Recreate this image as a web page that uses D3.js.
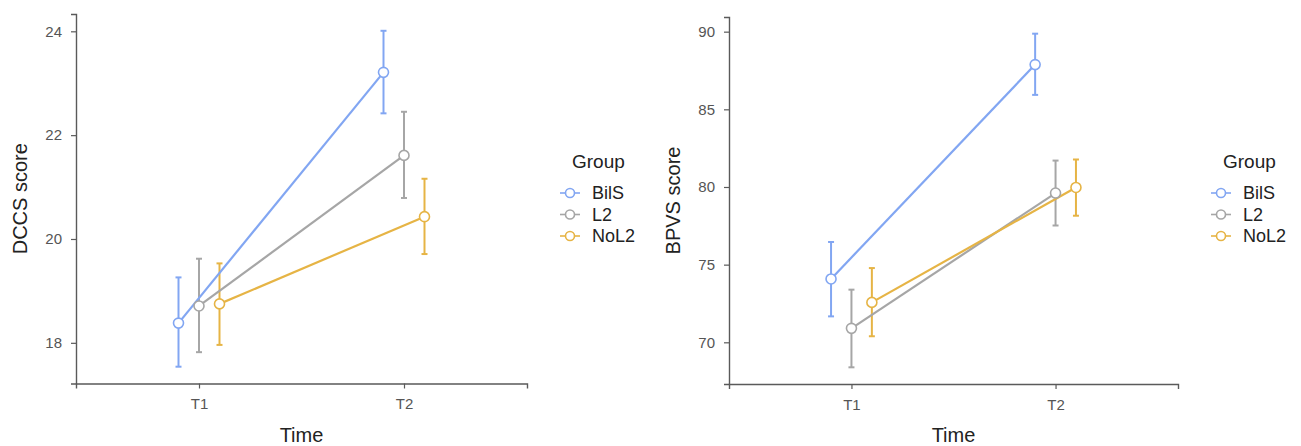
<!DOCTYPE html>
<html>
<head>
<meta charset="utf-8">
<script src="https://cdn.jsdelivr.net/npm/d3@7"></script>
<style>
	body { margin: 0; background: #fff; }
	svg { display: block; font-family: "Liberation Sans", Arial, sans-serif; }
</style>
</head>
<body>
<div id="chart"></div>
<script>
'use strict';

// data
var times = ["T1", "T2"];
var groups = ["BilS", "L2", "NoL2"];
var groupColors = ["#82a6f2", "#a6a6a6", "#e6b445"];

var dccsMean = { BilS: [18.38, 23.21], L2: [18.71, 21.61], NoL2: [18.75, 20.43] };
var dccsLow  = { BilS: [17.54, 22.42], L2: [17.82, 20.79], NoL2: [17.96, 19.71] };
var dccsHigh = { BilS: [19.26, 24.01], L2: [19.62, 22.45], NoL2: [19.53, 21.16] };
var dccsTicks = [18, 20, 22, 24];

var bpvsMean = { BilS: [74.08, 87.88], L2: [70.90, 79.61], NoL2: [72.57, 79.97] };
var bpvsLow  = { BilS: [71.67, 85.93], L2: [68.39, 77.52], NoL2: [70.39, 78.15] };
var bpvsHigh = { BilS: [76.46, 89.87], L2: [73.39, 81.70], NoL2: [74.78, 81.77] };
var bpvsTicks = [70, 75, 80, 85, 90];

var W = 1301, H = 446;

var panels = [
	{ left: 76, right: 527, top: 14, bottom: 383.5, ytitle: "DCCS score",
		mean: dccsMean, low: dccsLow, high: dccsHigh, ticks: dccsTicks },
	{ left: 729, right: 1178, top: 17, bottom: 384, ytitle: "BPVS score",
		mean: bpvsMean, low: bpvsLow, high: bpvsHigh, ticks: bpvsTicks }
];

var svg = d3.select("#chart").append("svg")
	.attr("width", W)
	.attr("height", H);

var color = d3.scaleOrdinal().domain(groups).range(groupColors);

panels.forEach(function (p) {
	var g = svg.append("g");

	// y domain = data range + 5% like ggplot
	var all = [];
	groups.forEach(function (k) { all = all.concat(p.low[k], p.high[k]); });
	var ext = d3.extent(all), pad = (ext[1] - ext[0]) * 0.05;

	var y = d3.scaleLinear()
		.domain([ext[0] - pad, ext[1] + pad])
		.range([p.bottom, p.top]);

	var x = d3.scalePoint()
		.domain(times)
		.range([p.left, p.right])
		.padding(0.6);

	var dodge = d3.scalePoint()
		.domain(groups)
		.range([-x.step() * 0.1, x.step() * 0.1]);

	// axes
	var yAxis = g.append("g")
		.attr("transform", "translate(" + p.left + ",0)")
		.call(d3.axisLeft(y).tickValues(p.ticks).tickSize(5).tickPadding(9));
	var xAxis = g.append("g")
		.attr("transform", "translate(0," + p.bottom + ")")
		.call(d3.axisBottom(x).tickSize(5).tickPadding(10));

	[yAxis, xAxis].forEach(function (a) {
		a.select(".domain").attr("stroke", "#5a5a5a").attr("stroke-width", 1.4);
		a.selectAll(".tick line").attr("stroke", "#5a5a5a").attr("stroke-width", 1.2);
		a.selectAll(".tick text")
			.attr("fill", "#555")
			.style("font-size", "15px")
			.style("font-family", "'Liberation Sans', Arial, sans-serif");
	});

	// titles
	g.append("text")
		.attr("x", (p.left + p.right) / 2)
		.attr("y", 442)
		.attr("text-anchor", "middle")
		.attr("fill", "#222")
		.style("font-size", "20px")
		.text("Time");
	g.append("text")
		.attr("transform", "translate(" + (p.left - 49) + "," + ((p.top + p.bottom) / 2) + ") rotate(-90)")
		.attr("text-anchor", "middle")
		.attr("fill", "#222")
		.style("font-size", "20px")
		.text(p.ytitle);

	groups.forEach(function (k) {
		var c = color(k);
		var px = function (i) { return x(times[i]) + dodge(k); };

		// error bars
		times.forEach(function (t, i) {
			var eb = g.append("g").attr("stroke", c).attr("stroke-width", 2);
			eb.append("line")
				.attr("x1", px(i)).attr("x2", px(i))
				.attr("y1", y(p.low[k][i])).attr("y2", y(p.high[k][i]));
			eb.append("line")
				.attr("x1", px(i) - 3).attr("x2", px(i) + 3)
				.attr("y1", y(p.low[k][i])).attr("y2", y(p.low[k][i]));
			eb.append("line")
				.attr("x1", px(i) - 3).attr("x2", px(i) + 3)
				.attr("y1", y(p.high[k][i])).attr("y2", y(p.high[k][i]));
		});
	});

	groups.forEach(function (k) {
		var line = d3.line()
			.x(function (d, i) { return x(times[i]) + dodge(k); })
			.y(function (d) { return y(d); });
		g.append("path")
			.datum(p.mean[k])
			.attr("d", line)
			.attr("fill", "none")
			.attr("stroke", color(k))
			.attr("stroke-width", 2.2);
	});

	groups.forEach(function (k) {
		g.selectAll(null)
			.data(p.mean[k])
			.enter().append("circle")
			.attr("cx", function (d, i) { return x(times[i]) + dodge(k); })
			.attr("cy", function (d) { return y(d); })
			.attr("r", 5)
			.attr("fill", "#fff")
			.attr("stroke", color(k))
			.attr("stroke-width", 1.6);
	});

	// legend
	var lg = svg.append("g").attr("transform", "translate(" + (p.right + 45) + ",0)");
	lg.append("text")
		.attr("x", 0)
		.attr("y", 168)
		.attr("fill", "#222")
		.style("font-size", "19px")
		.text("Group");
	groups.forEach(function (k, i) {
		var cy = 193 + i * 21.5;
		lg.append("line")
			.attr("x1", -12).attr("x2", 8)
			.attr("y1", cy).attr("y2", cy)
			.attr("stroke", color(k))
			.attr("stroke-width", 1.6);
		lg.append("circle")
			.attr("cx", -2).attr("cy", cy)
			.attr("r", 4.5)
			.attr("fill", "#fff")
			.attr("stroke", color(k))
			.attr("stroke-width", 1.6);
		lg.append("text")
			.attr("x", 20)
			.attr("y", cy)
			.attr("dy", "0.36em")
			.attr("fill", "#222")
			.style("font-size", "18px")
			.text(k);
	});
});
</script>
</body>
</html>
